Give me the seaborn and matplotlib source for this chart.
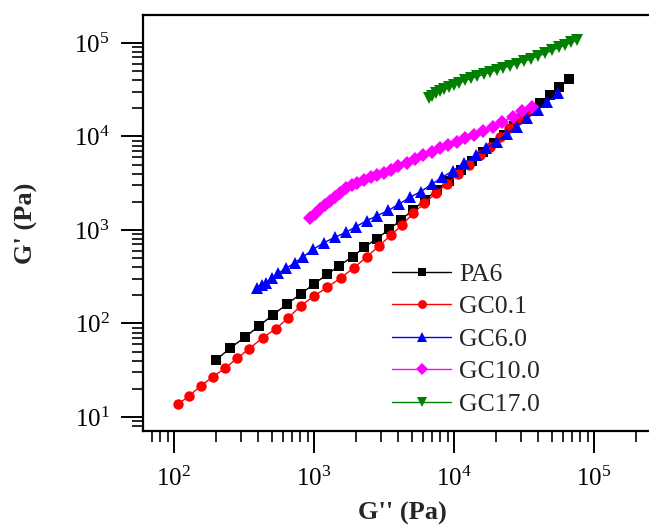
import numpy as np
import pandas as pd
import matplotlib
matplotlib.use('Agg')
import matplotlib.pyplot as plt
import seaborn as sns

# G'' (x) và G' (y), đơn vị Pa
pa6_x = [200, 251, 321, 405, 507, 638, 804, 1000, 1245, 1517, 1888, 2287, 2805, 3450, 4180,
         5090, 6210, 7560, 9210, 11220, 13450, 16110, 19310, 22750, 26840, 31120, 36060,
         41120, 48530, 56230, 66680]
pa6_y = [40.7, 54.3, 71.2, 94.0, 123, 160, 207, 264, 336, 415, 518, 653, 807, 1016, 1279,
         1637, 2094, 2680, 3370, 4330, 5400, 6740, 8510, 10370, 12790, 15390, 18500,
         22650, 27790, 33590, 40910]

gc01_x = [107, 129, 155, 189, 231, 283, 345, 430, 532, 655, 804, 1000, 1245, 1552, 1931,
          2378, 2911, 3530, 4276, 5120, 6137, 7430, 8913, 10690, 12800, 15340, 18080,
          21300, 24730, 28640, 33190]
gc01_y = [13.7, 16.9, 21.5, 26.8, 33.2, 42.5, 53.7, 70.5, 87.3, 115, 154, 197, 243, 307, 395,
          514, 675, 877, 1140, 1510, 1930, 2470, 3120, 3930, 4955, 6340, 7780,
          9880, 12330, 15000, 18270]

gc6_x = [390, 425, 454, 499, 556, 631, 732, 839, 989, 1179, 1413, 1693, 1995, 2378, 2805,
         3396, 4064, 4850, 5783, 6933, 8248, 9886, 11790, 14280, 16930, 20200, 23770,
         28050, 33040, 39630, 46380, 55590]
gc6_y = [238, 255, 273, 304, 344, 389, 447, 518, 622, 731, 835, 945, 1085, 1257, 1413,
         1617, 1897, 2239, 2570, 3083, 3664, 4306, 5248, 6340, 7480, 8790, 10640,
         12730, 15660, 19200, 23550, 28970]

gc10_x = [936, 1016, 1104, 1199, 1300, 1413, 1535, 1693, 1859, 2039, 2275, 2541, 2833, 3162,
          3548, 4000, 4592, 5260, 6040, 6933, 7943, 9100, 10450, 11990, 13970, 16180,
          18880, 21920, 26240, 30760, 36220]
gc10_y = [1334, 1483, 1665, 1850, 2057, 2270, 2506, 2793, 3029, 3206, 3427, 3664, 3873, 4100,
          4385, 4775, 5208, 5745, 6340, 6877, 7480, 8110, 8790, 9570, 10370, 11530,
          12730, 14390, 16030, 18750, 20830]

gc17_x = [6577, 6966, 7430, 7943, 8551, 9204, 10000, 10940, 11990, 13220, 14590, 16250, 18080,
          20140, 22390, 25120, 28180, 31620, 35480, 39810, 44670, 50120, 56230, 62520,
          68500, 74990]
gc17_y = [25470, 27100, 28840, 30690, 32210, 33820, 35560, 37330, 39720, 41690, 43850, 46030,
          48640, 51400, 54080, 56750, 59970, 63390, 67450, 72100, 77230, 83180, 89540,
          95230, 101200, 106900]

series = [
    ('PA6', pa6_x, pa6_y, 'black', 's', 7),
    ('GC0.1', gc01_x, gc01_y, 'red', 'o', 7.5),
    ('GC6.0', gc6_x, gc6_y, 'blue', '^', 8.5),
    ('GC10.0', gc10_x, gc10_y, 'magenta', 'D', 6.8),
    ('GC17.0', gc17_x, gc17_y, 'green', 'v', 9),
]

sns.set_style('ticks')
plt.rcParams['font.family'] = ['Liberation Serif', 'DejaVu Serif']
plt.rcParams['mathtext.fontset'] = 'custom'
plt.rcParams['mathtext.rm'] = 'Liberation Serif'
plt.rcParams['mathtext.it'] = 'Liberation Serif:italic'
plt.rcParams['mathtext.bf'] = 'Liberation Serif:bold'

fig = plt.figure(figsize=(6.49, 5.28), dpi=100)
ax = fig.add_axes([143 / 649, 1 - 431 / 528, 517 / 649, 416 / 528])
ax.set_xscale('log')
ax.set_yscale('log')

for name, xs, ys, col, mk, ms in series:
    d = pd.DataFrame({'Gpp': xs, 'Gp': ys})
    sns.lineplot(data=d, x='Gpp', y='Gp', ax=ax, color=col, marker=mk, markersize=ms,
                 markeredgewidth=0, linewidth=1, label=name, estimator=None, sort=False)

ax.set_xlim(60.1, 2.96e5)
ax.set_ylim(7.08, 1.99e5)

for s in ['left', 'bottom', 'top']:
    ax.spines[s].set_linewidth(1.6)
    ax.spines[s].set_color('black')
ax.spines['right'].set_visible(False)

ax.tick_params(which='major', direction='out', length=16, width=1.4, labelsize=18,
               top=False, right=False, colors='black')
ax.tick_params(which='minor', direction='out', length=8, width=1.4, top=False, right=False)
ax.tick_params(axis='x', which='major', pad=10)
ax.tick_params(axis='y', which='major', pad=8)

ax.set_xlabel("G'' (Pa)", fontsize=19, fontweight='bold')
ax.set_ylabel("G' (Pa)", fontsize=19, fontweight='bold')
ax.xaxis.set_label_coords((402 - 143) / 517, (431 - 502) / 416)
ax.yaxis.set_label_coords((38 - 143) / 517, 0.5)

leg = ax.legend(loc='upper left', bbox_to_anchor=(392 / 649, 1 - 263 / 528),
                bbox_transform=fig.transFigure, frameon=False, fontsize=18.5,
                handlelength=2.3, handletextpad=0.3, labelspacing=0.37,
                borderpad=0, borderaxespad=0, numpoints=1, markerscale=0.85)

plt.savefig('out.png', dpi=100)
plt.close()
